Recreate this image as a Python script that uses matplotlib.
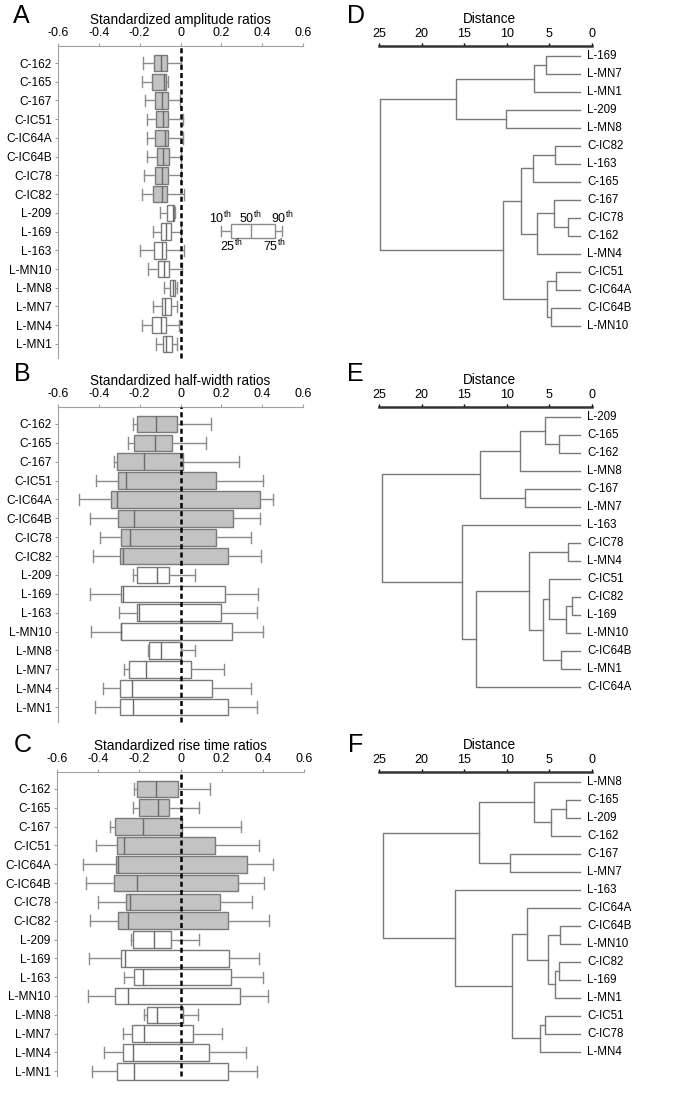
import matplotlib
matplotlib.use('Agg')
import matplotlib.pyplot as plt

plt.rcParams['font.family'] = ['Liberation Sans', 'DejaVu Sans']
plt.rcParams['mathtext.fontset'] = 'custom'
plt.rcParams['mathtext.rm'] = 'Liberation Sans'

cells = ['C-162', 'C-165', 'C-167', 'C-IC51', 'C-IC64A', 'C-IC64B', 'C-IC78', 'C-IC82',
         'L-209', 'L-169', 'L-163', 'L-MN10', 'L-MN8', 'L-MN7', 'L-MN4', 'L-MN1']

# percentiles 10 / 25 / 50 / 75 / 90
amp_p10 = [-0.183, -0.188, -0.176, -0.163, -0.163, -0.163, -0.180, -0.188,
           -0.098, -0.134, -0.196, -0.158, -0.080, -0.134, -0.191, -0.119]
amp_p25 = [-0.131, -0.139, -0.126, -0.121, -0.123, -0.114, -0.126, -0.136,
           -0.065, -0.096, -0.131, -0.111, -0.052, -0.092, -0.139, -0.085]
amp_p50 = [-0.095, -0.082, -0.090, -0.087, -0.074, -0.087, -0.093, -0.092,
           -0.035, -0.070, -0.093, -0.082, -0.039, -0.074, -0.095, -0.070]
amp_p75 = [-0.065, -0.070, -0.062, -0.060, -0.062, -0.057, -0.060, -0.065,
           -0.030, -0.046, -0.070, -0.057, -0.028, -0.046, -0.070, -0.042]
amp_p90 = [0.000, -0.063, -0.003, 0.013, 0.010, 0.002, 0.000, 0.015,
           -0.028, 0.000, 0.018, 0.005, -0.016, -0.016, -0.005, -0.016]

hw_p10 = [-0.232, -0.257, -0.324, -0.413, -0.498, -0.444, -0.395, -0.430,
          -0.232, -0.444, -0.302, -0.438, -0.158, -0.275, -0.381, -0.420]
hw_p25 = [-0.212, -0.229, -0.310, -0.307, -0.340, -0.306, -0.289, -0.297,
          -0.212, -0.291, -0.212, -0.292, -0.154, -0.250, -0.297, -0.297]
hw_p50 = [-0.119, -0.126, -0.180, -0.268, -0.310, -0.229, -0.248, -0.281,
          -0.114, -0.281, -0.204, -0.289, -0.095, -0.168, -0.237, -0.235]
hw_p75 = [-0.016, -0.041, 0.011, 0.175, 0.387, 0.258, 0.176, 0.234,
          -0.057, 0.217, 0.199, 0.250, 0.000, 0.049, 0.155, 0.232]
hw_p90 = [0.150, 0.126, 0.286, 0.405, 0.454, 0.387, 0.346, 0.395,
          0.070, 0.379, 0.373, 0.405, 0.070, 0.212, 0.346, 0.373]

rt_p10 = [-0.225, -0.232, -0.341, -0.410, -0.475, -0.457, -0.403, -0.441,
          -0.242, -0.444, -0.274, -0.451, -0.177, -0.280, -0.370, -0.428]
rt_p25 = [-0.213, -0.200, -0.317, -0.309, -0.312, -0.322, -0.267, -0.304,
          -0.229, -0.291, -0.224, -0.317, -0.161, -0.238, -0.277, -0.309]
rt_p50 = [-0.121, -0.110, -0.184, -0.275, -0.306, -0.213, -0.245, -0.253,
          -0.130, -0.272, -0.184, -0.253, -0.113, -0.177, -0.233, -0.224]
rt_p75 = [-0.014, -0.055, 0.005, 0.166, 0.322, 0.280, 0.193, 0.230,
          -0.048, 0.238, 0.243, 0.287, 0.013, 0.061, 0.138, 0.229]
rt_p90 = [0.145, 0.090, 0.295, 0.383, 0.448, 0.404, 0.348, 0.428,
          0.090, 0.383, 0.399, 0.424, 0.085, 0.203, 0.319, 0.370]

# dendrograms: (upper, lower, merge distance)
tree_d = (((('L-169', 'L-MN7', 5.35), 'L-MN1', 6.84), ('L-209', 'L-MN8', 10.1), 16.0),
          (((('C-IC82', 'L-163', 4.3), 'C-165', 6.9),
            (('C-167', ('C-IC78', 'C-162', 2.8), 4.5), 'L-MN4', 6.5), 8.36),
           (('C-IC51', 'C-IC64A', 4.2), ('C-IC64B', 'L-MN10', 4.8), 5.27), 10.4), 24.9)
tree_e = (((('L-209', ('C-165', 'C-162', 3.9), 5.55), 'L-MN8', 8.44), ('C-167', 'L-MN7', 7.9), 13.1),
          ('L-163', ((('C-IC78', 'L-MN4', 2.77),
                      (('C-IC51', (('C-IC82', 'L-169', 2.34), 'L-MN10', 3.0), 5.08),
                       ('C-IC64B', 'L-MN1', 3.6), 5.74), 7.34), 'C-IC64A', 13.67), 15.3), 24.7)
tree_f = ((('L-MN8', (('C-165', 'L-209', 3.1), 'C-162', 4.77), 6.8), ('C-167', 'L-MN7', 9.57), 13.24),
          ('L-163', (('C-IC64A', (('C-IC64B', 'L-MN10', 3.79),
                                  (('C-IC82', 'L-169', 3.87), 'L-MN1', 4.375), 5.16), 7.58),
                     (('C-IC51', 'C-IC78', 5.47), 'L-MN4', 6.1), 9.375), 16.05), 24.57)

W, H = 685, 1100
fig = plt.figure(figsize=(W / 100, H / 100), dpi=100)


def px_axes(l, t, r, b):
    return fig.add_axes([l / W, 1 - b / H, (r - l) / W, (b - t) / H])


def box_panel(ax, title, p10, p25, p50, p75, p90, ylim):
    stats = [dict(whislo=a, q1=b, med=c, q3=d, whishi=e, fliers=[])
             for a, b, c, d, e in zip(p10, p25, p50, p75, p90)]
    bp = ax.bxp(stats, positions=range(len(cells)), widths=0.88, orientation='horizontal',
                patch_artist=True, showfliers=False, capwidths=0.6, manage_ticks=False,
                boxprops=dict(edgecolor='#7a7a7a', linewidth=1),
                whiskerprops=dict(color='#8c8c8c', linewidth=1),
                capprops=dict(color='#8c8c8c', linewidth=1),
                medianprops=dict(color='#6a6a6a', linewidth=1))
    for patch, name in zip(bp['boxes'], cells):
        patch.set_facecolor('#c3c3c3' if name.startswith('C-') else 'white')
    for arts in bp.values():
        for a in arts:
            a.set_clip_on(False)
    ax.axvline(0, color='black', linestyle=(0, (2, 1.3)), linewidth=1.8, zorder=5, clip_on=False)
    ax.set_xlim(-0.6, 0.6)
    ax.set_ylim(*ylim)
    ax.set_xticks([-0.6, -0.4, -0.2, 0, 0.2, 0.4, 0.6])
    ax.set_xticklabels(['-0.6', '-0.4', '-0.2', '0', '0.2', '0.4', '0.6'])
    ax.set_yticks(range(len(cells)))
    ax.set_yticklabels(cells)
    ax.xaxis.tick_top()
    for s in ['right', 'bottom']:
        ax.spines[s].set_visible(False)
    for s in ['top', 'left']:
        ax.spines[s].set_color('#a0a0a0')
    ax.tick_params(axis='x', length=2.5, color='#a0a0a0', labelsize=9, pad=2.5)
    ax.tick_params(axis='y', length=2.5, color='#a0a0a0', labelsize=8.6, pad=2)
    ax.set_title(title, fontsize=9.8, pad=2)


def dendro(ax, tree, leaf_end=1.4):
    leaves = []

    def walk(node):
        if isinstance(node, str):
            y = len(leaves)
            leaves.append(node)
            return y, leaf_end
        a, b, h = node
        ya, xa = walk(a)
        yb, xb = walk(b)
        ax.plot([xa, h, h, xb], [ya, ya, yb, yb], color='#7a7a7a', linewidth=1)
        return (ya + yb) / 2, h

    walk(tree)
    for i, name in enumerate(leaves):
        ax.text(0.6, i, name, fontsize=8.3, va='center', ha='left')
    ax.set_xlim(25, 0)
    ax.set_ylim(15.78, -0.556)
    ax.set_xticks([25, 20, 15, 10, 5, 0])
    ax.set_yticks([])
    ax.xaxis.tick_top()
    for s in ['right', 'bottom', 'left']:
        ax.spines[s].set_visible(False)
    ax.spines['top'].set_linewidth(1.8)
    ax.spines['top'].set_color('#333333')
    ax.tick_params(axis='x', length=2, width=1, labelsize=9, pad=2)
    ax.set_title('Distance', fontsize=9.8, pad=4, x=0.52)


axA = px_axes(58, 46, 303, 358)
box_panel(axA, 'Standardized amplitude ratios', amp_p10, amp_p25, amp_p50, amp_p75, amp_p90,
          (15.75, -0.91))
axB = px_axes(58, 407, 303, 722)
box_panel(axB, 'Standardized half-width ratios', hw_p10, hw_p25, hw_p50, hw_p75, hw_p90,
          (15.79, -0.9))
axC = px_axes(57, 772, 304, 1076)
box_panel(axC, 'Standardized rise time ratios', rt_p10, rt_p25, rt_p50, rt_p75, rt_p90,
          (15.25, -0.9))

# percentile key in panel A
key = [dict(whislo=0.196, q1=0.248, med=0.343, q3=0.461, whishi=0.498, fliers=[])]
kb = axA.bxp(key, positions=[8.97], widths=0.7, orientation='horizontal', patch_artist=True,
             showfliers=False, capwidths=0.5, manage_ticks=False,
             boxprops=dict(edgecolor='#8c8c8c', facecolor='white', linewidth=1),
             whiskerprops=dict(color='#8c8c8c', linewidth=1),
             capprops=dict(color='#8c8c8c', linewidth=1),
             medianprops=dict(color='#8c8c8c', linewidth=1))
for x, y, lab in [(0.196, 8.25, '10'), (0.343, 8.25, '50'), (0.498, 8.25, '90'),
                  (0.248, 9.75, '25'), (0.461, 9.75, '75')]:
    axA.text(x, y, lab + r'$^{\mathrm{th}}$', fontsize=9, ha='center', va='center')

axD = px_axes(379, 46, 592, 340)
dendro(axD, tree_d)
axE = px_axes(379, 407, 592, 701)
dendro(axE, tree_e)
axF = px_axes(379, 772, 592, 1066)
dendro(axF, tree_f)

for lab, x, y in [('A', 13, 16), ('B', 14, 374), ('C', 14, 745),
                  ('D', 347, 16), ('E', 347, 374), ('F', 348, 745)]:
    fig.text(x / W, 1 - y / H, lab, fontsize=18, ha='left', va='center')

fig.savefig('out.png', dpi=100)
